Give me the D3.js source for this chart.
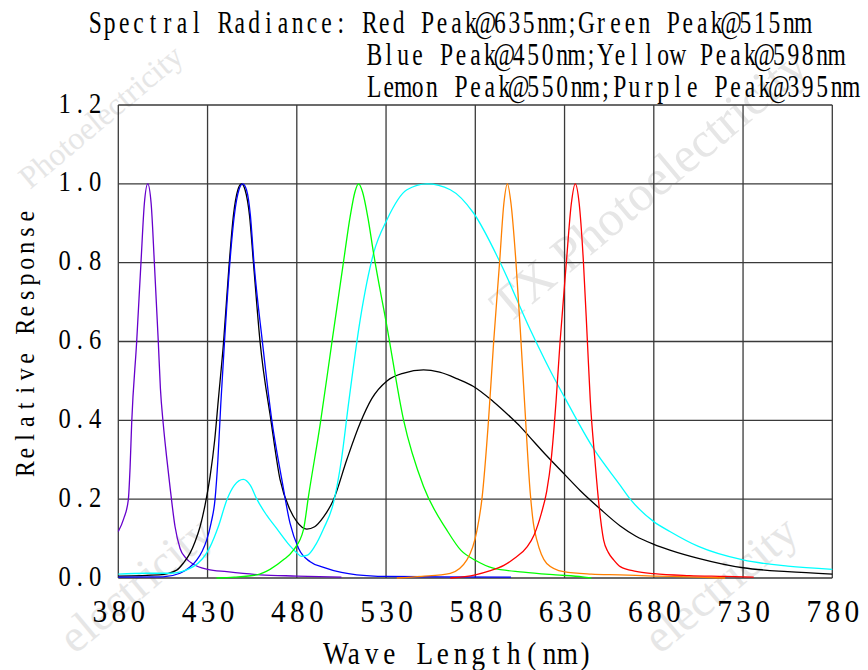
<!DOCTYPE html>
<html>
<head>
<meta charset="utf-8">
<script src="https://cdn.jsdelivr.net/npm/d3@7"></script>
<style>
  html, body { margin: 0; padding: 0; background: #fff; }
  svg { display: block; }
  text { white-space: pre; }
</style>
</head>
<body>
<svg id="chart" width="868" height="670"></svg>
<script>
// ---------- data ----------
const titleLines = [
  "Spectral Radiance: Red Peak@635nm;Green Peak@515nm",
  "Blue Peak@450nm;Yellow Peak@598nm",
  "Lemon Peak@550nm;Purple Peak@395nm"
];
const xTicks = [380, 430, 480, 530, 580, 630, 680, 730, 780];
const yTicks = [0, 0.2, 0.4, 0.6, 0.8, 1.0, 1.2];
const xLabel = "Wave Length(nm)";
const yLabel = "Relative Response";
const watermarkTexts = ["TX Photoelectricity", "Photoelectricity", "electricity", "electricity"];

const purple = [[380,0.118],[383,0.15],[385.6,0.198],[386.6,0.28],[387.5,0.393],[390.3,0.6],[392.7,0.8],[394.6,0.95],[396.5,1.0],[398.4,0.95],[400.2,0.8],[402.4,0.6],[403.6,0.48],[405.2,0.39],[407,0.31],[409,0.23],[411.8,0.13],[414.6,0.075],[418,0.05],[422,0.035],[430,0.022],[440.8,0.016],[459.4,0.008],[480,0.005],[505,0.002]];
const black = [[380,0.005],[403,0.008],[412.7,0.02],[416.5,0.038],[420.2,0.063],[423,0.092],[425.8,0.13],[428.6,0.185],[431.4,0.257],[434,0.35],[436,0.45],[439,0.6],[442,0.79],[444.5,0.92],[447,0.985],[449,1.0],[451,0.985],[453.5,0.92],[455.7,0.8],[459.4,0.6],[465.5,0.4],[470.6,0.25],[476.2,0.173],[480,0.143],[485.6,0.124],[490,0.13],[495,0.155],[500.5,0.198],[508,0.3],[515.5,0.393],[522,0.455],[530.5,0.5],[540,0.52],[551,0.528],[560,0.522],[570,0.505],[579,0.486],[590,0.448],[600,0.407],[605.2,0.384],[610,0.36],[620,0.31],[630.4,0.261],[638.7,0.222],[650,0.175],[661.2,0.132],[670,0.106],[680,0.0855],[689,0.071],[705,0.05],[730,0.026],[755,0.016],[780,0.01]];
const blue = [[380,0.002],[405,0.003],[414.6,0.012],[420,0.027],[424,0.046],[427,0.068],[429.5,0.096],[432,0.14],[434.2,0.2],[435.8,0.3],[437.4,0.44],[439.5,0.6],[442.5,0.8],[445,0.92],[447.6,0.985],[449.7,1.0],[451.8,0.985],[454,0.92],[456,0.8],[460.7,0.6],[466,0.4],[471.6,0.25],[476.2,0.139],[481,0.075],[487.5,0.041],[495,0.027],[505,0.014],[513.6,0.008],[530,0.004],[560,0.003],[600,0.002]];
const lemon = [[380,0.01],[395,0.012],[409,0.012],[422,0.029],[431.4,0.079],[436,0.13],[440.8,0.198],[445,0.235],[450,0.25],[454,0.235],[457.6,0.2],[463,0.16],[468.8,0.125],[475,0.088],[480,0.064],[482.5,0.055],[486,0.058],[490,0.08],[495,0.125],[500.5,0.19],[505,0.3],[509,0.443],[515.5,0.655],[523,0.824],[530.5,0.909],[541.7,0.985],[552.9,1.0],[566,0.985],[579,0.926],[594,0.8],[610.8,0.63],[625.7,0.494],[630.4,0.455],[646,0.33],[661.2,0.235],[666.8,0.2],[680,0.143],[689,0.118],[705,0.08],[730,0.0457],[755,0.03],[780,0.022]];
const green = [[435,0],[445,0.002],[457.6,0.008],[465,0.022],[472.5,0.046],[478,0.07],[483.7,0.122],[486.5,0.206],[493.2,0.393],[499.6,0.596],[506.1,0.8],[510,0.92],[512.6,0.98],[514.6,1.0],[516.8,0.98],[520,0.91],[523,0.824],[530.5,0.638],[539.8,0.401],[551,0.232],[564,0.122],[572,0.07],[580,0.045],[590,0.025],[607,0.015],[625,0.008],[640,0.003],[645,0.0]];
const yellow = [[536,0],[550,0.004],[566,0.012],[575.3,0.046],[581,0.122],[583.7,0.2],[587.4,0.4],[590.3,0.6],[593.6,0.8],[596,0.95],[598,1.0],[600,0.95],[602.8,0.8],[605.6,0.6],[607.8,0.43],[610.8,0.215],[612.5,0.14],[614.5,0.096],[617,0.06],[620,0.037],[629.5,0.016],[645,0.01],[661,0.008],[680,0.005],[700,0.003],[720,0.0]];
const red = [[566,0],[580,0.008],[588,0.018],[596,0.032],[602,0.05],[609,0.079],[613,0.11],[617,0.164],[620,0.22],[622.5,0.3],[625.3,0.452],[627.5,0.6],[631,0.8],[633.8,0.95],[636,1.0],[638.2,0.95],[640.6,0.8],[642.8,0.6],[644.4,0.452],[647,0.3],[649,0.198],[651.9,0.096],[654.5,0.065],[657.5,0.046],[661.2,0.029],[670,0.017],[680,0.011],[700,0.006],[720,0.004],[736,0.002]];

const seriesList = [
  {name: "Purple", data: purple, color: "#6600cc"},
  {name: "Black", data: black, color: "#000000"},
  {name: "Blue", data: blue, color: "#0000ff"},
  {name: "Lemon", data: lemon, color: "#00ffff"},
  {name: "Green", data: green, color: "#00ff00"},
  {name: "Yellow", data: yellow, color: "#ff8000"},
  {name: "Red", data: red, color: "#ff0000"}
];

// ---------- layout ----------
const svg = d3.select("#chart");
const SERIF = "'Liberation Serif', 'DejaVu Serif', serif";
const pL = 118.3, pR = 832.3, pT = 105, pB = 578;
const x = d3.scaleLinear().domain([380, 780]).range([pL, pR]);
const y = d3.scaleLinear().domain([0, 1.2]).range([pB, pT]);

// fixed-cell ("monospaced") text made from a serif font
function cellXs(str, cell, sx) {
  return Array.from(str, (c, i) => ((i + 0.5) * cell / sx).toFixed(2)).join(" ");
}
function monoText(parent, str, tx, ty, cell, size, sx, rot) {
  return parent.append("text")
    .attr("transform", `translate(${tx},${ty})${rot ? ` rotate(${rot})` : ""} scale(${sx},1)`)
    .attr("x", cellXs(str, cell, sx)).attr("y", 0)
    .attr("text-anchor", "middle")
    .style("font-family", SERIF).style("font-size", size + "px")
    .attr("fill", "#000").text(str);
}

// watermark (faint)
const wm = svg.append("g").attr("fill", "#e6e6e6")
  .style("font-family", SERIF);
const wmPos = [
  {x: 508, y: 325, a: -40, s: 50},
  {x: 30, y: 190, a: -40, s: 32},
  {x: 75, y: 655, a: -40, s: 46},
  {x: 660, y: 655, a: -40, s: 46}
];
watermarkTexts.forEach((t, i) => {
  const d = wmPos[i];
  wm.append("text").attr("transform", `translate(${d.x},${d.y}) rotate(${d.a})`)
    .style("font-size", d.s + "px").text(t);
});

// grid
const grid = svg.append("g").attr("stroke", "#3a3a3a").attr("stroke-width", 1.3);
grid.selectAll("line.v").data(xTicks).join("line").attr("class", "v")
  .attr("x1", d => x(d)).attr("x2", d => x(d)).attr("y1", pT).attr("y2", pB);
grid.selectAll("line.h").data(yTicks).join("line").attr("class", "h")
  .attr("x1", pL).attr("x2", pR).attr("y1", d => y(d)).attr("y2", d => y(d));

// curves
const line = d3.line().x(d => x(d[0])).y(d => y(d[1])).curve(d3.curveMonotoneX);
svg.append("g").selectAll("path").data(seriesList).join("path")
  .attr("d", d => line(d.data)).attr("fill", "none")
  .attr("stroke", d => d.color).attr("stroke-width", 1.3);

// axes
const fmtX = d3.format("d"), fmtY = d3.format(".1f");
const xCell = 19, xSx = 0.95;
const xAxis = svg.append("g").attr("transform", `translate(0,${pB})`)
  .call(d3.axisBottom(x).tickValues(xTicks).tickSize(0).tickFormat(fmtX));
xAxis.select(".domain").remove();
xAxis.selectAll("text").each(function(d) {
  const s = fmtX(d);
  d3.select(this).attr("dy", null).attr("y", 0)
    .attr("transform", `translate(${-s.length * xCell / 2},44) scale(${xSx},1)`)
    .attr("x", cellXs(s, xCell, xSx)).attr("text-anchor", "middle")
    .style("font-family", SERIF).style("font-size", "31px").attr("fill", "#000");
});

const yCell = 15.3, ySx = 0.82;
const yAxis = svg.append("g").attr("transform", `translate(${pL},0)`)
  .call(d3.axisLeft(y).tickValues(yTicks).tickSize(0).tickFormat(fmtY));
yAxis.select(".domain").remove();
yAxis.selectAll("text").each(function(d) {
  const s = fmtY(d);
  d3.select(this).attr("dy", null).attr("y", 0)
    .attr("transform", `translate(${57 - pL},7) scale(${ySx},1)`)
    .attr("x", cellXs(s, yCell, ySx)).attr("text-anchor", "middle")
    .style("font-family", SERIF).style("font-size", "30px").attr("fill", "#000");
});

// title
const titlePos = [{x: 88, y: 33}, {x: 367, y: 65}, {x: 367, y: 97}];
titleLines.forEach((t, i) => {
  monoText(svg, t, titlePos[i].x, titlePos[i].y, 14.45, 31, 0.76);
});

// axis labels
monoText(svg, xLabel, 327, 664, 17.8, 32, 0.85);
monoText(svg, yLabel, 34, 477, 15.8, 28, 0.85, -90);
</script>
</body>
</html>
